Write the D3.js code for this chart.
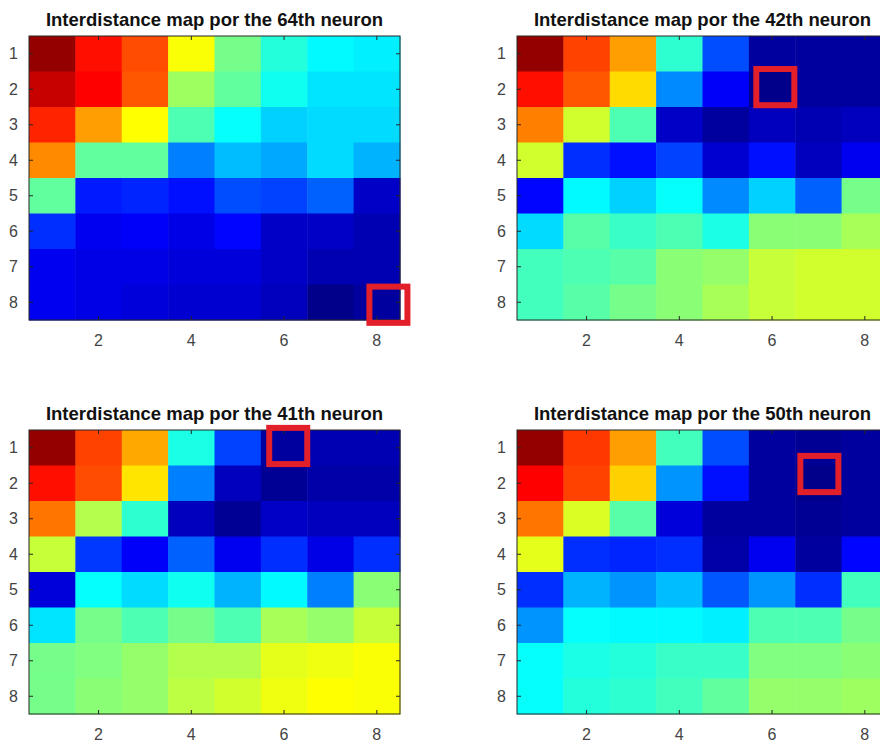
<!DOCTYPE html>
<html>
<head>
<meta charset="utf-8">
<script src="https://cdn.jsdelivr.net/npm/d3@7"></script>
<style>
  body { margin: 0; background: #fff; }
  svg { display: block; font-family: "Liberation Sans", Arial, Helvetica, sans-serif; }
</style>
</head>
<body>
<div id="chart"></div>
<script>
const neurons = [64, 42, 41, 50];

const map64 = [
    [0.98, 0.86, 0.80, 0.62, 0.49, 0.41, 0.37, 0.36],
    [0.93, 0.875, 0.79, 0.53, 0.47, 0.39, 0.35, 0.35],
    [0.84, 0.72, 0.625, 0.45, 0.38, 0.33, 0.34, 0.34],
    [0.74, 0.47, 0.47, 0.25, 0.31, 0.29, 0.34, 0.30],
    [0.47, 0.15, 0.16, 0.14, 0.20, 0.19, 0.22, 0.07],
    [0.17, 0.11, 0.12, 0.10, 0.13, 0.07, 0.07, 0.05],
    [0.11, 0.10, 0.10, 0.09, 0.09, 0.07, 0.05, 0.05],
    [0.11, 0.10, 0.09, 0.08, 0.08, 0.06, 0.01, 0.03]
];

const map42 = [
    [0.98, 0.81, 0.72, 0.42, 0.20, 0.03, 0.03, 0.03],
    [0.86, 0.79, 0.66, 0.26, 0.12, 0.01, 0.03, 0.03],
    [0.75, 0.58, 0.45, 0.07, 0.03, 0.06, 0.05, 0.06],
    [0.58, 0.17, 0.14, 0.19, 0.08, 0.14, 0.06, 0.11],
    [0.13, 0.37, 0.33, 0.38, 0.26, 0.33, 0.22, 0.49],
    [0.34, 0.46, 0.43, 0.45, 0.40, 0.51, 0.51, 0.54],
    [0.44, 0.45, 0.46, 0.51, 0.52, 0.57, 0.58, 0.58],
    [0.44, 0.46, 0.49, 0.51, 0.54, 0.57, 0.58, 0.58]
];

const map41 = [
    [0.98, 0.81, 0.71, 0.40, 0.19, 0.03, 0.05, 0.05],
    [0.86, 0.80, 0.65, 0.25, 0.06, 0.02, 0.04, 0.04],
    [0.76, 0.55, 0.42, 0.06, 0.02, 0.07, 0.06, 0.06],
    [0.57, 0.18, 0.12, 0.22, 0.11, 0.17, 0.10, 0.17],
    [0.09, 0.38, 0.34, 0.39, 0.30, 0.37, 0.25, 0.51],
    [0.35, 0.49, 0.45, 0.49, 0.45, 0.54, 0.52, 0.57],
    [0.49, 0.50, 0.52, 0.55, 0.55, 0.60, 0.61, 0.62],
    [0.49, 0.51, 0.52, 0.56, 0.58, 0.61, 0.625, 0.62]
];

const map50 = [
    [0.98, 0.82, 0.72, 0.44, 0.20, 0.03, 0.02, 0.03],
    [0.875, 0.81, 0.67, 0.27, 0.14, 0.03, 0.01, 0.03],
    [0.76, 0.59, 0.46, 0.09, 0.03, 0.03, 0.02, 0.03],
    [0.60, 0.17, 0.16, 0.17, 0.04, 0.11, 0.03, 0.13],
    [0.17, 0.30, 0.27, 0.31, 0.21, 0.27, 0.17, 0.44],
    [0.27, 0.38, 0.37, 0.37, 0.36, 0.45, 0.45, 0.49],
    [0.38, 0.40, 0.41, 0.43, 0.43, 0.50, 0.50, 0.51],
    [0.38, 0.41, 0.42, 0.44, 0.47, 0.52, 0.52, 0.53]
];

const maps = [map64, map42, map41, map50];

// winning neuron marker, in cell units (column, row) as hand-drawn on the figure
const markerCol = [8.25, 6.07, 6.09, 7.02];
const markerRow = [8.07, 1.94, 0.95, 1.74];

const xTicks = [2, 4, 6, 8];
const yTicks = [1, 2, 3, 4, 5, 6, 7, 8];

// MATLAB jet
function jet(v) {
    const c = t => Math.max(0, Math.min(1, t));
    const r = c(1.5 - Math.abs(4 * v - 3));
    const g = c(1.5 - Math.abs(4 * v - 2));
    const b = c(1.5 - Math.abs(4 * v - 1));
    return d3.rgb(r * 255, g * 255, b * 255).formatHex();
}

const W = 880, H = 742;
const svg = d3.select("#chart").append("svg")
    .attr("width", W)
    .attr("height", H);

// panel origins (plot area top-left) and size
const panelX = [29, 517, 29, 517];
const panelY = [36, 36, 430, 430];
const pw = 371, ph = 284;

maps.forEach((grid, i) => {
    const g = svg.append("g")
        .attr("transform", `translate(${panelX[i]}, ${panelY[i]})`);

    const x = d3.scaleLinear().domain([0.5, 8.5]).range([0, pw]);
    const y = d3.scaleLinear().domain([0.5, 8.5]).range([0, ph]);

    const cells = [];
    grid.forEach((row, r) => row.forEach((v, c) => cells.push({ r: r + 1, c: c + 1, v })));

    g.selectAll(".cell")
        .data(cells)
        .enter()
        .append("rect")
        .attr("x", d => x(d.c - 0.5))
        .attr("y", d => y(d.r - 0.5))
        .attr("width", x(1.5) - x(0.5) + 0.5)
        .attr("height", y(1.5) - y(0.5) + 0.5)
        .attr("fill", d => jet(d.v));

    // axes box
    g.append("rect")
        .attr("width", pw)
        .attr("height", ph)
        .attr("fill", "none")
        .attr("stroke", "#262626")
        .attr("stroke-width", 1);

    // ticks, inward like MATLAB
    const tl = 4;
    g.selectAll(".xt")
        .data(xTicks)
        .enter()
        .append("path")
        .attr("d", d => `M${x(d)},${ph}v${-tl}M${x(d)},0v${tl}`)
        .attr("stroke", "#262626");

    g.selectAll(".yt")
        .data(yTicks)
        .enter()
        .append("path")
        .attr("d", d => `M0,${y(d)}h${tl}M${pw},${y(d)}h${-tl}`)
        .attr("stroke", "#262626");

    g.selectAll(".xl")
        .data(xTicks)
        .enter()
        .append("text")
        .attr("x", d => x(d))
        .attr("y", ph + 26)
        .attr("text-anchor", "middle")
        .style("font-size", "16px")
        .style("fill", "#444")
        .text(d => d);

    g.selectAll(".yl")
        .data(yTicks)
        .enter()
        .append("text")
        .attr("x", -11)
        .attr("y", d => y(d))
        .attr("dy", "0.35em")
        .attr("text-anchor", "end")
        .style("font-size", "16px")
        .style("fill", "#444")
        .text(d => d);

    g.append("text")
        .attr("x", pw / 2)
        .attr("y", -10)
        .attr("text-anchor", "middle")
        .style("font-size", "18.5px")
        .style("font-weight", "bold")
        .style("fill", "#111")
        .text(`Interdistance map por the ${neurons[i]}th neuron`);

    // red marker
    g.append("rect")
        .attr("x", x(markerCol[i] - 0.41))
        .attr("y", y(markerRow[i] - 0.51))
        .attr("width", x(0.82) - x(0))
        .attr("height", y(1.02) - y(0))
        .attr("fill", "none")
        .attr("stroke", "#e3202a")
        .attr("stroke-width", 6);
});
</script>
</body>
</html>
